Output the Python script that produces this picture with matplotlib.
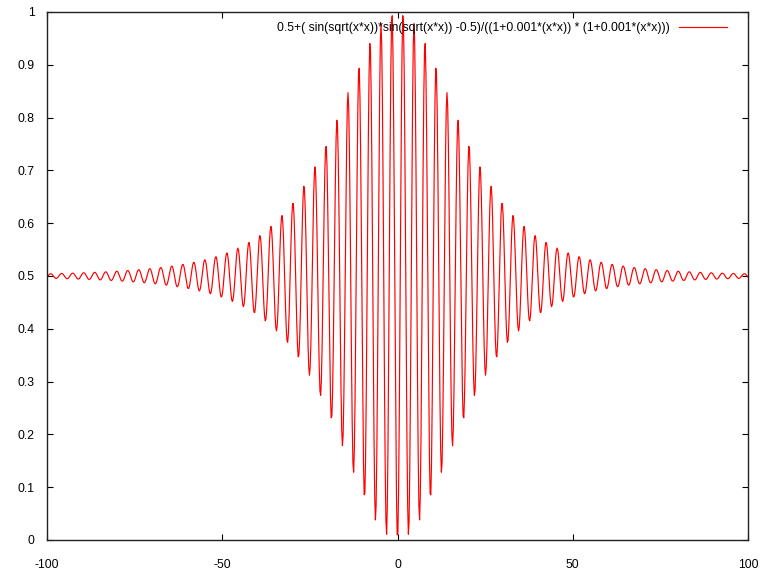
import numpy as np
from matplotlib import pyplot as plt

plt.rcParams['font.family'] = ['Liberation Sans', 'DejaVu Sans']
plt.rcParams['axes.unicode_minus'] = False

# the plotted function, exactly as printed in the chart's key
expr = "0.5+( sin(sqrt(x*x))*sin(sqrt(x*x)) -0.5)/((1+0.001*(x*x)) * (1+0.001*(x*x)))"
x_range = [-100, 100]
n_samples = 1000
x_ticks = [-100, -50, 0, 50, 100]
y_ticks = [0, 0.1, 0.2, 0.3, 0.4, 0.5, 0.6, 0.7, 0.8, 0.9, 1]
y_labels = ["0", "0.1", "0.2", "0.3", "0.4", "0.5", "0.6", "0.7", "0.8", "0.9", "1"]

x = np.linspace(x_range[0], x_range[1], n_samples)
y = eval(expr, {"sin": np.sin, "sqrt": np.sqrt, "x": x})

fig = plt.figure(figsize=(7.63, 5.70), dpi=100)
ax = fig.add_axes([47/763, 30/570, 701/763, 528/570])

ax.plot(x, y, color='#ff0000', lw=0.85, label=expr)

ax.set_xlim(x_range)
ax.set_ylim(0, 1)
ax.set_xticks(x_ticks)
ax.set_yticks(y_ticks)
ax.set_yticklabels(y_labels)

ax.tick_params(axis='both', direction='in', length=4, width=0.8, top=True, right=True,
               labelsize=8.7, colors='#000000')
ax.tick_params(axis='x', pad=14)
ax.tick_params(axis='y', pad=9)
for s in ax.spines.values():
    s.set_linewidth(1.0)
    s.set_color('#222222')

ax.legend(loc='center right', bbox_to_anchor=(0.970, 0.970), frameon=False,
          markerfirst=False, fontsize=8.7, handlelength=4.0, handletextpad=0.75,
          borderpad=0, borderaxespad=0)

fig.savefig('out.png', dpi=100)
